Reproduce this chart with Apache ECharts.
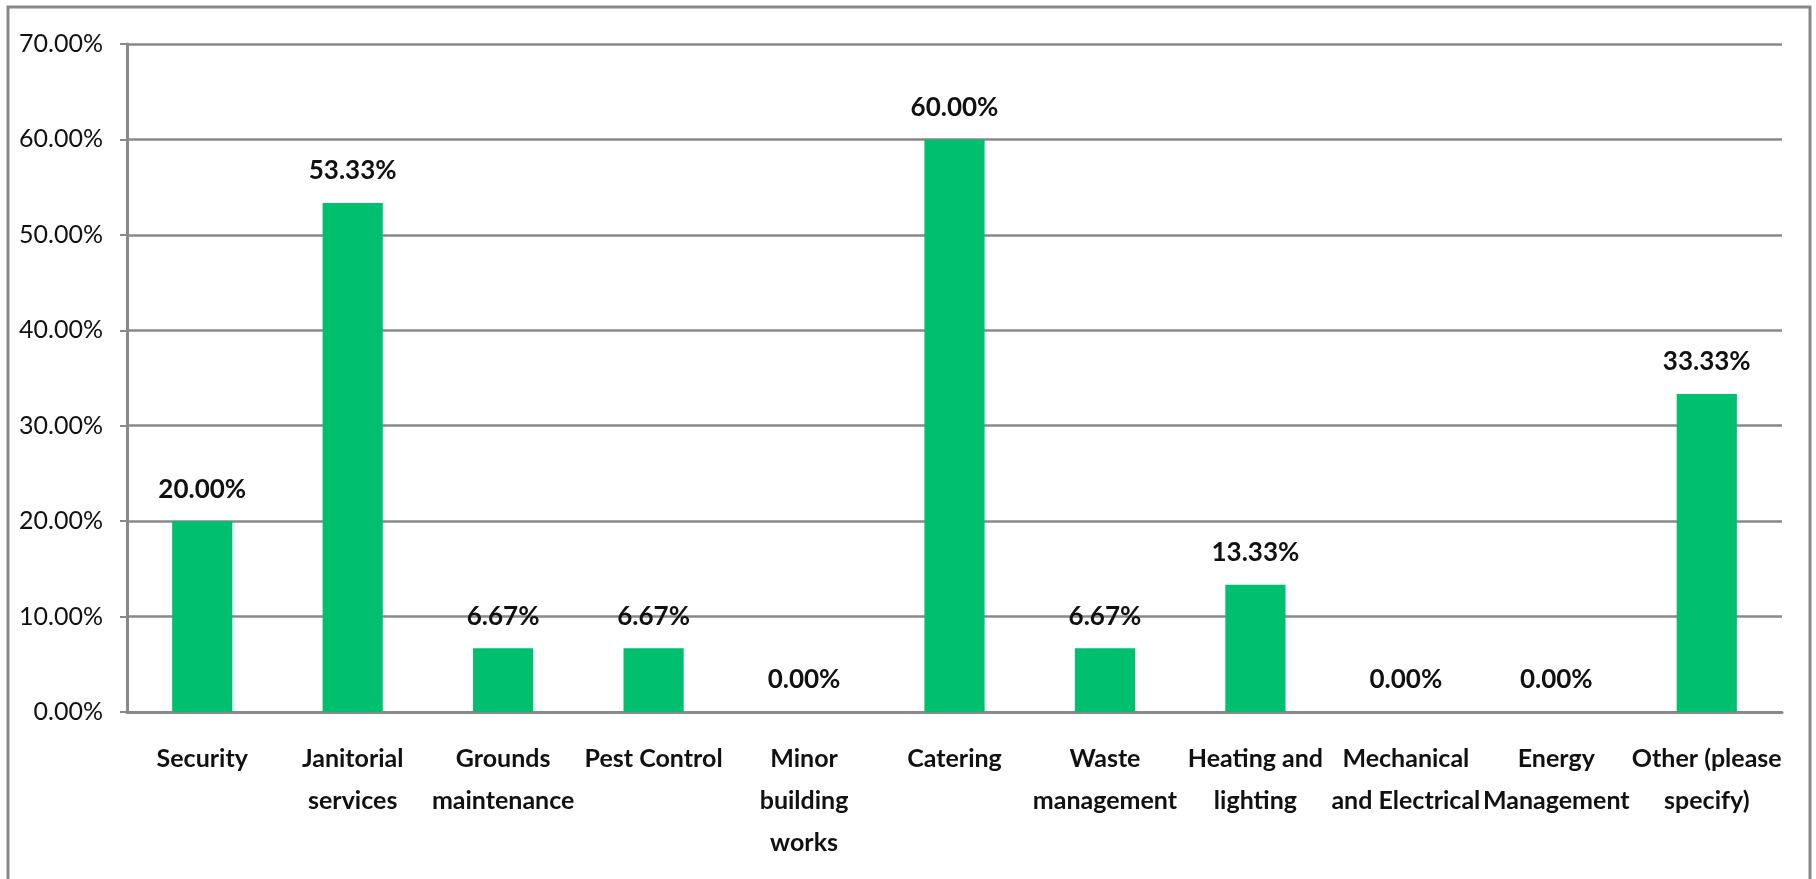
<!DOCTYPE html>
<html>
<head>
<meta charset="utf-8">
<script src="https://cdn.jsdelivr.net/npm/echarts@6/dist/echarts.min.js"></script>
<style>
  html, body { margin: 0; padding: 0; background: #fff; }
  #chart { width: 1816px; height: 879px; }
</style>
</head>
<body>
<div id="chart"></div>
<script>
const categories = [
  'Security',
  'Janitorial\nservices',
  'Grounds\nmaintenance',
  'Pest Control',
  'Minor\nbuilding\nworks',
  'Catering',
  'Waste\nmanagement',
  'Heating and\nlighting',
  'Mechanical\nand Electrical',
  'Energy\nManagement',
  'Other (please\nspecify)'
]
const percentages = [20.0, 53.33, 6.67, 6.67, 0.0, 60.0, 6.67, 13.33, 0.0, 0.0, 33.33]

const fontFamily = 'Lato, "DejaVu Sans Condensed", sans-serif'
const gray = '#898989'

const chart = echarts.init(document.getElementById('chart'))

const option = {
  animation: false,
  textStyle: { fontFamily },
  graphic: [
    {
      type: 'rect',
      shape: { x: 8, y: 7, width: 1802, height: 900 },
      style: { fill: 'none', stroke: gray, lineWidth: 3 },
      silent: true
    }
  ],
  grid: { left: 127, right: 34, top: 44, bottom: 167 },
  xAxis: {
    type: 'category',
    data: categories,
    axisLine: { lineStyle: { color: gray, width: 3 } },
    axisTick: { length: 12, lineStyle: { color: gray, width: 2 } },
    axisLabel: {
      interval: 0,
      margin: 26,
      color: '#111',
      fontWeight: 'bold',
      fontSize: 25,
      lineHeight: 42,
      fontFamily
    }
  },
  yAxis: {
    type: 'value',
    min: 0,
    max: 70,
    interval: 10,
    axisLine: { show: true, lineStyle: { color: gray, width: 3 } },
    axisTick: { show: true, length: 7, lineStyle: { color: gray, width: 2 } },
    splitLine: { lineStyle: { color: gray, width: 2.5 } },
    axisLabel: {
      margin: 24,
      color: '#111',
      fontSize: 25,
      fontFamily,
      formatter: (v) => v.toFixed(2) + '%'
    }
  },
  series: [
    {
      type: 'bar',
      data: percentages,
      barWidth: '40%',
      itemStyle: { color: '#00bf6f' },
      label: {
        show: true,
        position: 'top',
        distance: 19,
        color: '#111',
        fontWeight: 'bold',
        fontSize: 26,
        fontFamily,
        formatter: (p) => p.value.toFixed(2) + '%'
      }
    }
  ]
}

chart.setOption(option)
</script>
</body>
</html>
